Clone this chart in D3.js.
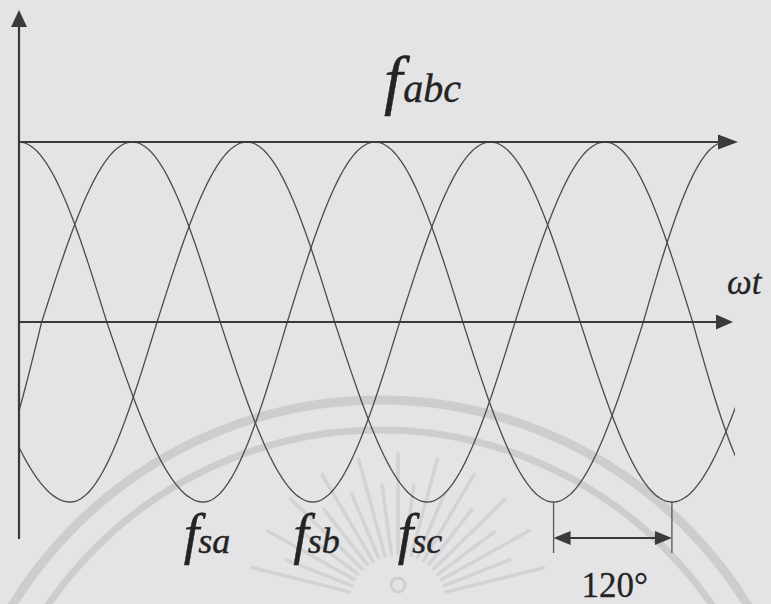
<!DOCTYPE html>
<html>
<head>
<meta charset="utf-8">
<script src="https://cdn.jsdelivr.net/npm/d3@7"></script>
<style>
  html, body { margin: 0; padding: 0; background: #e4e4e6; }
  svg { display: block; }
</style>
</head>
<body>
<svg id="chart" width="771" height="604"></svg>
<script>
// Key points of each phase as [ωt in degrees, normalised value].
// Points beyond the plotted span only shape the curve ends.
const fsa = [[0, 1], [89, 0], [187, -1], [272, 0], [361, 1], [450, 0], [542, -1], [633, 0], [716, 1]];
const fsb = [[-47, -1], [23, 0], [115, 1], [204, 0], [298, -1], [386, 0], [478, 1], [569, 0], [662, -1], [756, 0]];
const fsc = [[-50, 0], [52, -1], [140, 0], [231, 1], [320, 0], [414, -1], [503, 0], [594, 1], [683, 0], [764, -1]];

const phaseSeries = [fsa, fsb, fsc];
const phaseSubscripts = ["sa", "sb", "sc"];
const labelAtDeg = [163, 274, 380];       // left edge of each phase label, in ωt degrees
const shiftStartDeg = 542;                // trough of fsa where the 120° bracket starts
const phaseShiftDeg = 120;
const shiftLabel = "120°";
const axisLabel = "ωt";
const titleMain = "f";
const titleSub = "abc";

const W = 771, H = 604;
const svg = d3.select("#chart");

const x = d3.scaleLinear().domain([0, 729]).range([19, 738]);
const y = d3.scaleLinear().domain([-1, 1]).range([502, 142]);

const ink = "#3a3a3a";
const curveInk = "#4b4b4b";
const textInk = "#242424";
const serif = "'Liberation Serif', 'Times New Roman', serif";

// ---- faint seal in the background ----
const seal = svg.append("g").attr("fill", "none");
seal.append("circle").attr("cx", 380).attr("cy", 832).attr("r", 432)
  .attr("stroke", "#cdcdcf").attr("stroke-width", 9);
seal.append("circle").attr("cx", 380).attr("cy", 832).attr("r", 402)
  .attr("stroke", "#cdcdcf").attr("stroke-width", 7);
const rayC = [398, 604];
for (let i = 0; i <= 20; i++) {
  const a = (-166 + i * (152 / 20)) * Math.PI / 180;
  const r0 = 50, r1 = (i % 2 ? 120 : 150);
  seal.append("line")
    .attr("x1", rayC[0] + r0 * Math.cos(a)).attr("y1", rayC[1] + r0 * Math.sin(a))
    .attr("x2", rayC[0] + r1 * Math.cos(a)).attr("y2", rayC[1] + r1 * Math.sin(a))
    .attr("stroke", "#d3d3d5").attr("stroke-width", 3.5).attr("stroke-linecap", "round");
}
seal.append("circle").attr("cx", 398).attr("cy", 585).attr("r", 7)
  .attr("stroke", "#cfcfd1").attr("stroke-width", 3);

// ---- quarter-sine curve: joins extrema and zero crossings with sine arcs ----
const quarterSine = base => context => {
  let pts;
  return {
    areaStart() {}, areaEnd() {},
    lineStart() { pts = []; },
    point(px, py) { pts.push([+px, +py]); },
    lineEnd() {
      pts.forEach((p, i) => {
        if (i === 0) { context.moveTo(p[0], p[1]); return; }
        const q = pts[i - 1];
        const fromExtremum = Math.abs(q[1] - base) > Math.abs(p[1] - base);
        const n = 30;
        for (let k = 1; k <= n; k++) {
          const t = k / n;
          const xx = q[0] + (p[0] - q[0]) * t;
          const yy = fromExtremum
            ? base + (q[1] - base) * Math.cos(Math.PI / 2 * t)
            : base + (p[1] - base) * Math.sin(Math.PI / 2 * t);
          context.lineTo(xx, yy);
        }
      });
    }
  };
};

svg.append("clipPath").attr("id", "plotClip")
  .append("rect").attr("x", x(0)).attr("y", 0).attr("width", 735 - x(0)).attr("height", H);

const line = d3.line()
  .x(d => x(d[0]))
  .y(d => y(d[1]))
  .curve(quarterSine(y(0)));

svg.append("g").attr("clip-path", "url(#plotClip)")
  .selectAll("path").data(phaseSeries).join("path")
  .attr("d", line)
  .attr("fill", "none")
  .attr("stroke", curveInk)
  .attr("stroke-width", 1.3);

// ---- axes ----
const axes = svg.append("g");
// vertical axis
axes.append("line").attr("x1", x(0)).attr("x2", x(0)).attr("y1", 539).attr("y2", 24)
  .attr("stroke", ink).attr("stroke-width", 2.2);
axes.append("path").attr("d", `M${x(0)},10 L${x(0) - 8},27 L${x(0) + 8},27 Z`).attr("fill", ink);
// peak line
axes.append("line").attr("x1", x(0)).attr("x2", 722).attr("y1", y(1)).attr("y2", y(1))
  .attr("stroke", ink).attr("stroke-width", 2.2);
axes.append("path").attr("d", `M738,${y(1)} L718,${y(1) - 7.5} L718,${y(1) + 7.5} Z`).attr("fill", ink);
// ωt axis
axes.append("line").attr("x1", x(0)).attr("x2", 720).attr("y1", y(0)).attr("y2", y(0))
  .attr("stroke", ink).attr("stroke-width", 2.2);
axes.append("path").attr("d", `M733,${y(0)} L716,${y(0) - 7.5} L716,${y(0) + 7.5} Z`).attr("fill", ink);

// ---- 120° bracket ----
const bx0 = x(shiftStartDeg), bx1 = x(shiftStartDeg + phaseShiftDeg);
const br = svg.append("g");
[bx0, bx1].forEach(bx => br.append("line")
  .attr("x1", bx).attr("x2", bx).attr("y1", y(-1)).attr("y2", 553)
  .attr("stroke", "#555").attr("stroke-width", 1.3));
const by = 538;
br.append("line").attr("x1", bx0 + 10).attr("x2", bx1 - 10).attr("y1", by).attr("y2", by)
  .attr("stroke", ink).attr("stroke-width", 2.2);
br.append("path").attr("d", `M${bx0},${by} L${bx0 + 17},${by - 7} L${bx0 + 17},${by + 7} Z`).attr("fill", ink);
br.append("path").attr("d", `M${bx1},${by} L${bx1 - 17},${by - 7} L${bx1 - 17},${by + 7} Z`).attr("fill", ink);
br.append("text").attr("x", (bx0 + bx1) / 2 + 2).attr("y", 597)
  .attr("text-anchor", "middle").attr("font-family", serif).attr("font-size", 35)
  .attr("fill", textInk).attr("stroke", textInk).attr("stroke-width", 0.3)
  .text(shiftLabel);

// ---- text labels ----
const title = svg.append("text").attr("x", 384).attr("y", 102)
  .attr("font-family", serif).attr("font-style", "italic")
  .attr("fill", textInk).attr("stroke", textInk).attr("stroke-width", 0.4);
title.append("tspan").attr("font-size", 66).text(titleMain);
title.append("tspan").attr("font-size", 40).attr("dx", 1).text(titleSub);

svg.append("text").attr("x", 727).attr("y", 294)
  .attr("font-family", serif).attr("font-style", "italic").attr("font-size", 35)
  .attr("fill", textInk).attr("stroke", textInk).attr("stroke-width", 0.3)
  .text(axisLabel);

phaseSubscripts.forEach((s, i) => {
  const t = svg.append("text").attr("x", x(labelAtDeg[i]) + 4).attr("y", 553)
    .attr("font-family", serif).attr("font-style", "italic")
    .attr("fill", textInk).attr("stroke", textInk).attr("stroke-width", 0.4);
  t.append("tspan").attr("font-size", 56).text(titleMain);
  t.append("tspan").attr("font-size", 36).attr("dx", -1).text(s);
});
</script>
</body>
</html>
